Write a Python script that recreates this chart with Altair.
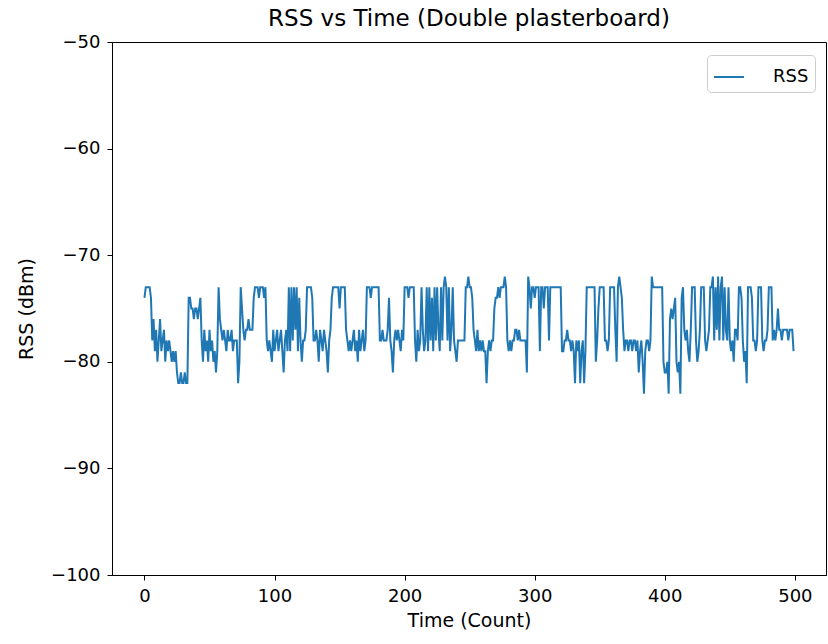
import altair as alt
import pandas as pd

TITLE = "RSS vs Time (Double plasterboard)"
X_TITLE = "Time (Count)"
Y_TITLE = "RSS (dBm)"
SERIES = "RSS"
X_TICKS = [0, 100, 200, 300, 400, 500]
Y_TICKS = [-100, -90, -80, -70, -60, -50]

RSS_0_99 = [
    -74, -73, -73, -73, -73, -74,
    -78, -76, -79, -77, -80, -78, -76, -79, -78, -77, -80, -78, -79, -78, -79, -80, -79,
    -80, -79,
    -81, -82, -82, -81, -82, -82, -81, -82, -82,
    -74, -74, -75, -75, -76, -75, -75, -76, -75, -74,
    -78, -80, -77, -79, -78, -80, -77, -79, -78, -80, -79,
    -81, -79, -73,
    -76, -77, -78, -77, -78, -79, -77, -78, -78, -77, -79, -78, -78, -78,
    -82, -80, -73, -75,
    -77, -78, -77, -77, -76, -77, -77, -77,
    -74, -73, -73, -73, -74, -73, -73, -73, -74, -73,
    -78, -79, -78, -79,
    -80, -77,
]
RSS_100_199 = [
    -79, -78, -77, -79, -78, -77, -79, -81, -78, -77, -79,
    -73, -79, -73, -78, -73, -77, -73, -79, -74,
    -78, -80, -78, -78, -77,
    -73, -73, -73, -73, -74,
    -78, -78, -77, -78, -80,
    -77, -78, -79, -77, -78, -79, -81, -78, -77,
    -74, -73, -73, -73, -73, -73, -75, -73, -73, -73, -73,
    -77, -78, -79, -78,
    -79, -78, -77, -79, -78, -80, -77, -79, -78, -77, -79, -78,
    -73, -73, -73, -74, -73, -73, -73, -73, -73, -73,
    -78, -78, -77, -78, -78, -78, -77,
    -74,
    -78, -79, -81, -78, -77, -78, -77, -78, -79, -77, -78,
]
RSS_200_299 = [
    -73, -73, -73, -74, -73, -73, -73, -73,
    -78, -80,
    -77, -79, -78, -73, -77, -79, -78,
    -73, -79, -73, -78, -74, -79, -73, -78, -73, -77, -79, -73, -78, -73, -72,
    -73, -78, -73, -79, -77, -73, -78, -79,
    -80,
    -78, -78, -78, -78, -78, -78,
    -73, -73, -72, -73, -73,
    -74, -77,
    -78, -79, -77, -79, -78, -79, -78, -79, -79,
    -82,
    -79, -78, -79, -78, -78,
    -75, -74, -74, -73, -74, -73, -73,
    -73, -72, -73,
    -78, -79, -78, -79, -78, -78,
    -77, -77, -78, -77,
    -78, -78, -78, -78, -78,
    -81,
    -72, -73, -75, -73, -73,
]
RSS_300_399 = [
    -74, -73,
    -73, -73, -79, -73, -73, -75, -73, -73, -73, -78,
    -73, -73, -73, -73, -73, -73, -73, -73, -73,
    -79, -79, -78, -78, -77, -78, -78, -79,
    -78, -79, -82, -78, -79, -78, -82, -79, -78, -82, -79,
    -73, -73, -73, -73, -73, -73, -73,
    -80,
    -78, -75, -73, -73, -73, -73,
    -78, -78, -79, -78,
    -73, -73, -73, -73,
    -77, -80,
    -73, -72, -73,
    -74, -77, -79, -78,
    -78, -79, -78, -78, -79, -78, -78, -79,
    -78, -81, -79, -78, -80, -83, -79, -78, -78, -79, -78,
    -72, -73, -73, -73, -73, -73, -73, -73, -73,
]
RSS_400_499 = [
    -80, -81, -81, -80,
    -83,
    -76, -75, -76, -75,
    -74,
    -80, -81, -80, -83,
    -74, -73,
    -77, -78, -77, -79, -80, -77,
    -73, -73, -73,
    -78, -80, -79, -77,
    -73, -73, -73,
    -78, -79, -78, -77,
    -73, -73,
    -72, -78, -73, -77, -72, -78, -73, -72, -78, -73, -77, -78, -73,
    -78, -79, -78,
    -80,
    -77, -77, -78,
    -73, -73, -74,
    -78, -80, -79, -82,
    -73, -73, -73, -74,
    -78, -78, -79, -78,
    -73, -73, -73,
    -78, -79, -78, -78, -77,
    -73, -73, -73,
    -78, -77, -78, -77,
    -75,
    -77, -77, -78, -77, -77, -77, -77, -78, -77, -77, -77,
    -79,
]

rss = RSS_0_99 + RSS_100_199 + RSS_200_299 + RSS_300_399 + RSS_400_499
df = pd.DataFrame({"Time": list(range(len(rss))), "RSS": rss, "series": SERIES})

FONT = "DejaVu Sans"

chart = (
    alt.Chart(df)
    .mark_line(strokeWidth=2)
    .encode(
        x=alt.X(
            "Time:Q",
            scale=alt.Scale(domain=[-24.95, 523.95], nice=False, zero=False),
            axis=alt.Axis(title=X_TITLE, values=X_TICKS, format="d"),
        ),
        y=alt.Y(
            "RSS:Q",
            scale=alt.Scale(domain=[-100, -50], nice=False, zero=False),
            axis=alt.Axis(title=Y_TITLE, values=Y_TICKS, format="d"),
        ),
        color=alt.Color(
            "series:N",
            scale=alt.Scale(range=["#1f77b4"]),
            legend=alt.Legend(
                title=None,
                orient="none",
                legendX=595,
                legendY=13,
                symbolType="stroke",
                symbolSize=900,
                symbolStrokeWidth=2,
                labelFontSize=18,
                labelFont=FONT,
                labelColor="black",
                padding=6,
                strokeColor="#cccccc",
                fillColor="white",
                cornerRadius=4,
                labelOffset=28,
            ),
        ),
    )
    .properties(
        width=714,
        height=533,
        title=alt.TitleParams(TITLE, fontSize=23, font=FONT, fontWeight="normal", color="black", offset=2),
        autosize=alt.AutoSizeParams(type="none"),
        padding={"left": 112, "top": 42, "right": 2, "bottom": 69},
    )
    .configure_view(stroke="black", strokeWidth=1)
    .configure_axis(
        grid=False,
        domainColor="black",
        tickColor="black",
        tickSize=5,
        labelFont=FONT,
        labelFontSize=18,
        labelColor="black",
        titleFont=FONT,
        titleFontSize=19,
        titleFontWeight="normal",
        titleColor="black",
        labelPadding=7,
    )
    .configure_axisX(titlePadding=6)
    .configure_axisY(titlePadding=14)
)

chart.save("out.html", embed_options={"renderer": "svg", "actions": False})
